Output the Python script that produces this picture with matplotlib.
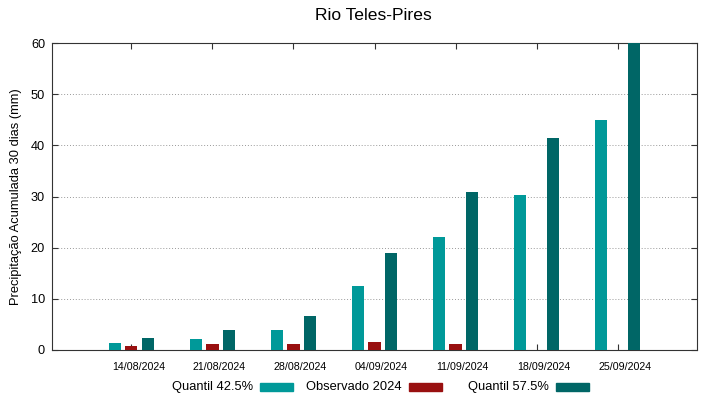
import matplotlib
matplotlib.use("Agg")
import matplotlib.pyplot as plt
from matplotlib.patches import Rectangle
import numpy as np

plt.rcParams['font.family'] = ['Liberation Sans', 'DejaVu Sans']

dates = ["14/08/2024", "21/08/2024", "28/08/2024", "04/09/2024",
         "11/09/2024", "18/09/2024", "25/09/2024"]
quantil_425 = [1.4, 2.2, 3.9, 12.6, 22.1, 30.3, 44.9]
observado = [0.8, 1.1, 1.2, 1.6, 1.1, 0.0, 0.0]
quantil_575 = [2.3, 3.9, 6.6, 19.0, 30.9, 41.4, 60.0]

c_q1 = "#009999"
c_obs = "#991010"
c_q2 = "#006666"

fig = plt.figure(figsize=(7.19, 3.99), dpi=100)
ax = fig.add_axes([52 / 719, 49 / 399, 645 / 719, 307 / 399])

x = np.arange(len(dates))
w = 0.15
ax.bar(x - 0.2, quantil_425, w, color=c_q1, zorder=3)
ax.bar(x, observado, w, color=c_obs, zorder=3)
ax.bar(x + 0.2, quantil_575, w, color=c_q2, zorder=3)

ax.set_xlim(-0.98, 6.98)
ax.set_ylim(0, 60)
ax.set_yticks(range(0, 61, 10))

# tick marks at the dates, labels drawn slightly to the right (as in gnuplot output)
ax.set_xticks(x)
ax.set_xticklabels([])
ax.set_xticks(x + 0.087, minor=True)
ax.set_xticklabels(dates, minor=True, fontsize=7.7)
ax.tick_params(axis='x', which='minor', length=0, pad=9)

ax.tick_params(axis='both', which='major', direction='in', top=True, right=True,
               length=4, width=0.8, color="#333333")
ax.tick_params(axis='y', labelsize=9.2, pad=5)
ax.yaxis.grid(True, linestyle=(0, (1, 2)), color="#999999", linewidth=0.7, zorder=0)
for s in ax.spines.values():
    s.set_color("#333333")
    s.set_linewidth(0.8)

ax.set_ylabel("Precipitação Acumulada 30 dias (mm)", fontsize=9.3, labelpad=6)
fig.text(373 / 719, 1 - 16 / 399, "Rio Teles-Pires", fontsize=12.6, ha='center', va='center')

# legend along the bottom, gnuplot style: text then sample
leg_y = 1 - 387 / 399
legend_items = [("Quantil 42.5%", c_q1, 253), ("Observado 2024", c_obs, 402), ("Quantil 57.5%", c_q2, 549)]
for label, col, xr in legend_items:
    fig.text(xr / 719, leg_y, label, fontsize=9.3, ha='right', va='center')
    fig.patches.append(Rectangle(((xr + 7) / 719, leg_y - 4 / 399), 33 / 719, 8 / 399,
                                 transform=fig.transFigure, color=col, figure=fig))

fig.savefig("out.png", dpi=100)
